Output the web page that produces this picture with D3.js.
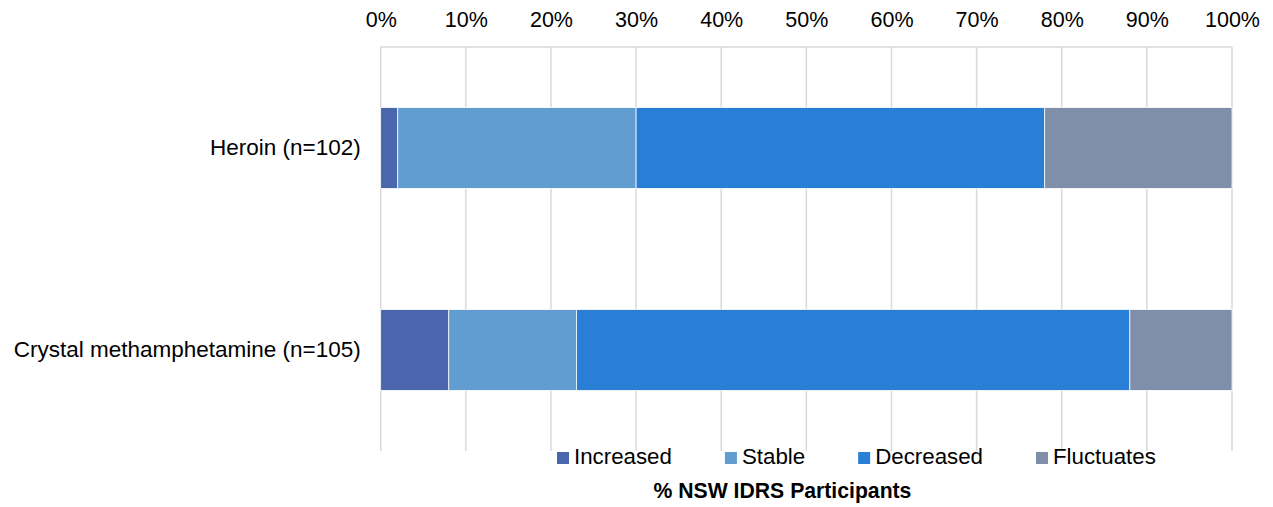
<!DOCTYPE html>
<html>
<head>
<meta charset="utf-8">
<script src="https://cdn.jsdelivr.net/npm/d3@7"></script>
<style>
  html, body { margin: 0; padding: 0; background: #fff; }
  svg { display: block; font-family: "Liberation Sans", Arial, sans-serif; }
</style>
</head>
<body>
<svg id="chart" width="1273" height="507"></svg>
<script>
const categories = ["Heroin (n=102)", "Crystal methamphetamine (n=105)"];
const seriesNames = ["Increased", "Stable", "Decreased", "Fluctuates"];
const increased = [2, 8];
const stable = [28, 15];
const decreased = [48, 65];
const fluctuates = [22, 12];
const tickValues = [0, 10, 20, 30, 40, 50, 60, 70, 80, 90, 100];
const colors = ["#4A66AC", "#629DD1", "#297FD5", "#7F8FA9"];
const axisTitle = "% NSW IDRS Participants";

const rows = categories.map((c, i) => ({
  category: c,
  Increased: increased[i],
  Stable: stable[i],
  Decreased: decreased[i],
  Fluctuates: fluctuates[i]
}));

const svg = d3.select("#chart");
const plotLeft = 380.7, plotRight = 1232, plotTop = 47, plotBottom = 451;

const x = d3.scaleLinear().domain([0, 100]).range([plotLeft, plotRight]);
const y = d3.scaleBand().domain(categories).range([plotTop, plotBottom])
  .paddingInner(0.6).paddingOuter(0.3);

// gridlines
const grid = svg.append("g");
grid.selectAll("line.v").data(tickValues).join("line")
  .attr("class", "v")
  .attr("x1", d => x(d)).attr("x2", d => x(d))
  .attr("y1", plotTop).attr("y2", plotBottom)
  .attr("stroke", "#d9d9d9").attr("stroke-width", 1.5);
grid.append("line")
  .attr("x1", plotLeft).attr("x2", plotRight)
  .attr("y1", plotTop).attr("y2", plotTop)
  .attr("stroke", "#d9d9d9").attr("stroke-width", 1.5);

// top axis labels
const xAxis = d3.axisTop(x).tickValues(tickValues).tickSize(0).tickPadding(0)
  .tickFormat(d => d + "%");
const gx = svg.append("g").attr("transform", `translate(0,${plotTop})`).call(xAxis);
gx.select(".domain").remove();
gx.selectAll("text")
  .attr("y", -20)
  .attr("dy", 0)
  .attr("font-size", "21.5px")
  .attr("font-family", "Liberation Sans, Arial, sans-serif")
  .attr("fill", "#000");

// stacked bars
const stack = d3.stack().keys(seriesNames);
const series = stack(rows);
svg.append("g").selectAll("g").data(series).join("g")
  .attr("fill", (d, i) => colors[i])
  .selectAll("rect").data(d => d).join("rect")
  .attr("x", d => x(d[0]))
  .attr("width", d => x(d[1]) - x(d[0]))
  .attr("y", d => y(d.data.category))
  .attr("height", y.bandwidth())
  .attr("stroke", "#ffffff")
  .attr("stroke-width", 0.75);

// category labels
const yAxis = d3.axisLeft(y).tickSize(0).tickPadding(20);
const gy = svg.append("g").attr("transform", `translate(${plotLeft},0)`).call(yAxis);
gy.select(".domain").remove();
gy.selectAll("text")
  .attr("font-size", "22.5px")
  .attr("font-family", "Liberation Sans, Arial, sans-serif")
  .attr("fill", "#000")
  .attr("dy", "0.33em");

// legend
const legend = svg.append("g");
let lx = 557;
const ly = 464;
seriesNames.forEach((name, i) => {
  legend.append("rect")
    .attr("x", lx).attr("y", ly - 12)
    .attr("width", 12).attr("height", 12)
    .attr("fill", colors[i]);
  const t = legend.append("text")
    .attr("x", lx + 17).attr("y", ly)
    .attr("font-size", "22.3px")
    .attr("fill", "#000")
    .text(name);
  const w = t.node().getComputedTextLength();
  lx = lx + 17 + w + 53;
});

// axis title
svg.append("text")
  .attr("x", 782.5).attr("y", 498)
  .attr("text-anchor", "middle")
  .attr("font-size", "21.2px")
  .attr("font-weight", "bold")
  .attr("fill", "#000")
  .text(axisTitle);
</script>
</body>
</html>
